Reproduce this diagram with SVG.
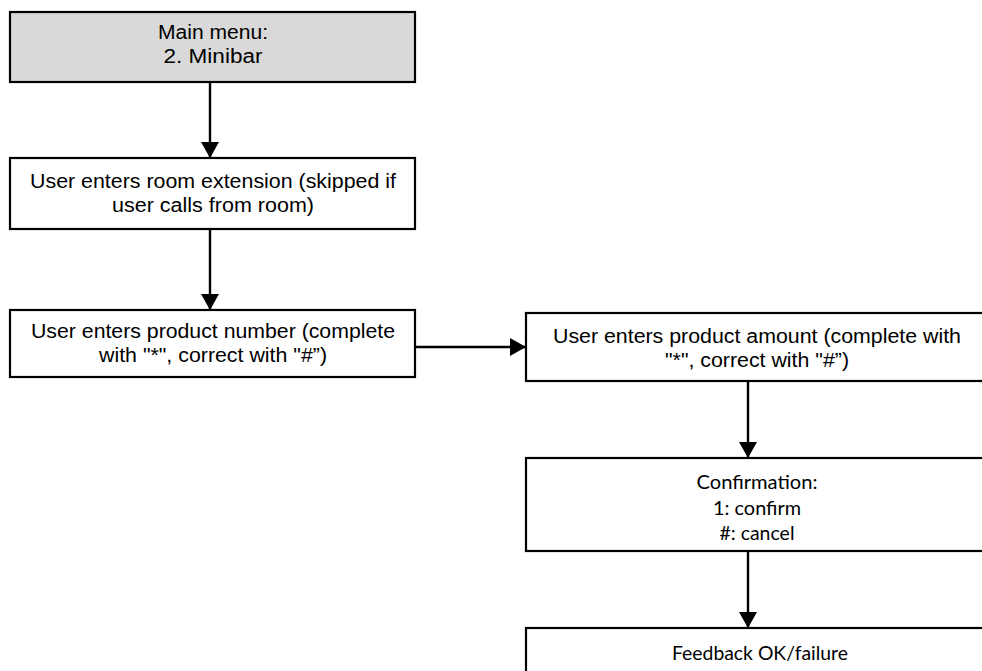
<svg xmlns="http://www.w3.org/2000/svg" width="982" height="671" viewBox="0 0 982 671">
<style>
.box{fill:#fff;stroke:#000;stroke-width:2.2}
.gray{fill:#d9d9d9}
.a{font-family:"Liberation Sans",Arial,sans-serif;font-size:20px;fill:#000;text-anchor:middle}
.c{font-family:Lato,"Open Sans",sans-serif;font-size:20px;fill:#000;text-anchor:middle}
.conn{stroke:#000;stroke-width:2.4;fill:none;marker-end:url(#arr)}
</style>
<defs>
<marker id="arr" markerUnits="userSpaceOnUse" markerWidth="16" markerHeight="18" viewBox="0 0 16 18" refX="16" refY="9" orient="auto">
<path d="M0,0 L16,9 L0,18 Z" fill="#000"/>
</marker>
</defs>
<rect width="982" height="671" fill="#fff"/>
<g id="connectors">
<line class="conn" x1="210" y1="82" x2="210" y2="158"/>
<line class="conn" x1="210" y1="229" x2="210" y2="310"/>
<line class="conn" x1="416" y1="347" x2="526" y2="347"/>
<line class="conn" x1="748" y1="381" x2="748" y2="458"/>
<line class="conn" x1="748" y1="551" x2="748" y2="628"/>
</g>
<g id="node1">
<rect class="box gray" x="10" y="12" width="405" height="70"/>
<text class="a" x="213" y="39" textLength="110" lengthAdjust="spacingAndGlyphs">Main menu:</text>
<text class="a" x="213" y="63" textLength="99" lengthAdjust="spacingAndGlyphs">2. Minibar</text>
</g>
<g id="node2">
<rect class="box" x="10" y="158" width="405" height="71"/>
<text class="a" x="213" y="188" textLength="366" lengthAdjust="spacingAndGlyphs">User enters room extension (skipped if</text>
<text class="a" x="213" y="212" textLength="202" lengthAdjust="spacingAndGlyphs">user calls from room)</text>
</g>
<g id="node3">
<rect class="box" x="10" y="310" width="405" height="67"/>
<text class="a" x="213" y="338" textLength="364" lengthAdjust="spacingAndGlyphs">User enters product number (complete</text>
<text class="a" x="213" y="362" textLength="228" lengthAdjust="spacingAndGlyphs">with "*", correct with "#”)</text>
</g>
<g id="node4">
<rect class="box" x="526" y="313" width="464" height="68"/>
<text class="a" x="757" y="343" textLength="408" lengthAdjust="spacingAndGlyphs">User enters product amount (complete with</text>
<text class="a" x="757" y="367" textLength="184" lengthAdjust="spacingAndGlyphs">"*", correct with "#”)</text>
</g>
<g id="node5">
<rect class="box" x="526" y="458" width="464" height="93"/>
<text class="c" x="757" y="489" textLength="121" lengthAdjust="spacingAndGlyphs">Confirmation:</text>
<text class="c" x="757" y="515" textLength="88" lengthAdjust="spacingAndGlyphs">1: confirm</text>
<text class="c" x="757" y="540" textLength="75" lengthAdjust="spacingAndGlyphs">#: cancel</text>
</g>
<g id="node6">
<rect class="box" x="526" y="628" width="464" height="60"/>
<text class="c" x="760" y="660" textLength="176" lengthAdjust="spacingAndGlyphs">Feedback OK/failure</text>
</g>
</svg>
